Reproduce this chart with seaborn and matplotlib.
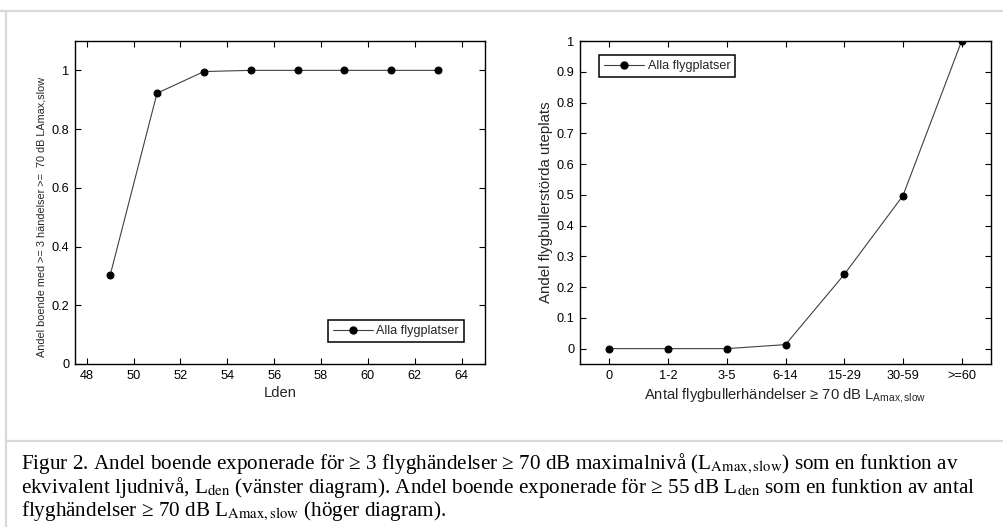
import matplotlib
matplotlib.use("Agg")
import matplotlib.pyplot as plt
from matplotlib.lines import Line2D
from matplotlib.ticker import FixedLocator, FixedFormatter
import pandas as pd
import seaborn as sns

# Left panel: share of residents with >= 3 events >= 70 dB LAmax,slow vs Lden
lden = [49, 51, 53, 55, 57, 59, 61, 63]
share_left = [0.302, 0.922, 0.996, 1.0, 1.0, 1.0, 1.0, 1.0]
left_xticks = [48, 50, 52, 54, 56, 58, 60, 62, 64]
left_yticks = [0, 0.2, 0.4, 0.6, 0.8, 1.0]
left_yticklabels = ["0", "0.2", "0.4", "0.6", "0.8", "1"]

# Right panel: share of disturbed outdoor areas vs number of events
event_classes = ["0", "1-2", "3-5", "6-14", "15-29", "30-59", ">=60"]
share_right = [0.0, 0.0, 0.0, 0.013, 0.241, 0.497, 1.0]
right_yticks = [0, 0.1, 0.2, 0.3, 0.4, 0.5, 0.6, 0.7, 0.8, 0.9, 1.0]
right_yticklabels = ["0", "0.1", "0.2", "0.3", "0.4", "0.5", "0.6", "0.7", "0.8", "0.9", "1"]

series_name = "Alla flygplatser"

sns.set_style("ticks")
plt.rcParams["font.family"] = ["Liberation Sans", "DejaVu Sans"]
plt.rcParams["mathtext.fontset"] = "custom"
plt.rcParams["mathtext.rm"] = "Liberation Sans"
plt.rcParams["mathtext.it"] = "Liberation Sans"

W, H = 1004, 527
fig = plt.figure(figsize=(W / 100, H / 100), dpi=100, facecolor="white")

line_kw = dict(color="#404040", linewidth=0.8, marker="o", markersize=5,
               markerfacecolor="black", markeredgecolor="black")


def style_axes(ax):
    for s in ax.spines.values():
        s.set_color("black")
        s.set_linewidth(1.0)
    ax.tick_params(direction="in", length=4, width=0.8, top=True, right=True,
                   labelsize=9.2, colors="black", pad=4)
    ax.grid(False)


def add_legend(ax, loc, anchor):
    handle = Line2D([], [], **line_kw)
    leg = ax.legend([handle], [series_name], loc=loc, bbox_to_anchor=anchor,
                    borderaxespad=0, fancybox=False, framealpha=1,
                    edgecolor="black", fontsize=9.1, handlelength=3.2,
                    borderpad=0.4, handletextpad=0.25)
    leg.get_frame().set_linewidth(1.1)


# ---- left panel ----
axL = fig.add_axes([75 / W, 1 - 364 / H, 410 / W, 323 / H])
dfL = pd.DataFrame({"Lden": lden, "share": share_left})
sns.lineplot(data=dfL, x="Lden", y="share", ax=axL, **line_kw)
axL.set_xlim(47.5, 65)
axL.set_ylim(0, 1.1)
axL.xaxis.set_major_locator(FixedLocator(left_xticks))
axL.yaxis.set_major_locator(FixedLocator(left_yticks))
axL.yaxis.set_major_formatter(FixedFormatter(left_yticklabels))
axL.set_xlabel("Lden", fontsize=10.6, labelpad=3)
axL.set_ylabel("Andel boende med >= 3 händelser >=  70 dB LAmax,slow",
               fontsize=7.8)
axL.yaxis.set_label_coords((47 - 75) / 410, (364 - 216.5) / 323)
style_axes(axL)
add_legend(axL, "lower right", (0.949, 0.068))

# ---- right panel ----
axR = fig.add_axes([580 / W, 1 - 364 / H, 411 / W, 323 / H])
dfR = pd.DataFrame({"klass": pd.Categorical(event_classes, categories=event_classes,
                                             ordered=True),
                    "share": share_right})
dfR["pos"] = dfR["klass"].cat.codes
sns.lineplot(data=dfR, x="pos", y="share", ax=axR, **line_kw)
axR.set_xlim(-0.5, len(event_classes) - 0.5)
axR.set_ylim(-0.05, 1.0)
axR.xaxis.set_major_locator(FixedLocator(list(range(len(event_classes)))))
axR.xaxis.set_major_formatter(FixedFormatter(event_classes))
axR.yaxis.set_major_locator(FixedLocator(right_yticks))
axR.yaxis.set_major_formatter(FixedFormatter(right_yticklabels))
axR.set_xlabel("Antal flygbullerhändelser ≥ 70 dB L$_{\\mathrm{Amax,slow}}$",
               fontsize=10.6, labelpad=3)
axR.set_ylabel("Andel flygbullerstörda uteplats", fontsize=10.8)
axR.yaxis.set_label_coords((553 - 580) / 411, 0.5)
style_axes(axR)
add_legend(axR, "upper left", (0.046, 0.957))

# ---- page frame ----
frame_col = "#d9d9d9"
fig.add_artist(Line2D([0, 1], [1 - 10.5 / H, 1 - 10.5 / H], color=frame_col,
                      linewidth=1.6, transform=fig.transFigure))
fig.add_artist(Line2D([5.5 / W, 5.5 / W], [0, 1 - 10.5 / H], color=frame_col,
                      linewidth=1.6, transform=fig.transFigure))
fig.add_artist(Line2D([5.5 / W, 1], [1 - 441 / H, 1 - 441 / H], color=frame_col,
                      linewidth=1.6, transform=fig.transFigure))

# ---- caption ----
caption = [
    "Figur 2. Andel boende exponerade för ≥ 3 flyghändelser ≥ 70 dB maximalnivå "
    "(L$_{\\mathrm{Amax,slow}}$) som en funktion av",
    "ekvivalent ljudnivå, L$_{\\mathrm{den}}$ (vänster diagram). Andel boende "
    "exponerade för ≥ 55 dB L$_{\\mathrm{den}}$ som en funktion av antal",
    "flyghändelser ≥ 70 dB L$_{\\mathrm{Amax,slow}}$ (höger diagram).",
]
for i, line in enumerate(caption):
    fig.text(21 / W, 1 - (469 + 23.5 * i) / H, line, ha="left", va="baseline",
             fontsize=15.2, family=["Liberation Serif", "DejaVu Serif"],
             math_fontfamily="stix", color="black")

fig.savefig("out.png", dpi=100, facecolor="white")
